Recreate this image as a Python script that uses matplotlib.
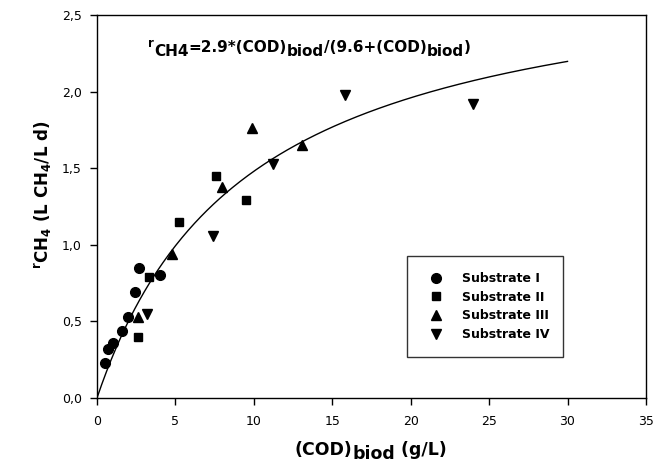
import numpy as np
import matplotlib
matplotlib.use('Agg')
import matplotlib.pyplot as plt
from matplotlib.ticker import FuncFormatter
from matplotlib.transforms import IdentityTransform

plt.rcParams['font.family'] = ['DejaVu Sans']

# Substrate data: (COD)biod in g/L, rCH4 in L CH4/L d
cod_1 = [0.5, 0.7, 1.0, 1.6, 2.0, 2.4, 2.7, 4.0]
r_1 = [0.23, 0.32, 0.36, 0.44, 0.53, 0.69, 0.85, 0.80]

cod_2 = [2.6, 3.3, 5.2, 7.6, 9.5]
r_2 = [0.40, 0.79, 1.15, 1.45, 1.29]

cod_3 = [2.6, 4.8, 8.0, 9.9, 13.1]
r_3 = [0.53, 0.94, 1.38, 1.76, 1.65]

cod_4 = [3.2, 7.4, 11.2, 15.8, 24.0]
r_4 = [0.55, 1.06, 1.53, 1.98, 1.92]

labels = ['Substrate I', 'Substrate II', 'Substrate III', 'Substrate IV']

# Monod-type fit
r_max = 2.9
k_s = 9.6
x_fit = np.linspace(0, 30, 300)
y_fit = r_max * x_fit / (k_s + x_fit)

fig = plt.figure(figsize=(6.67, 4.68), dpi=100)
ax = fig.add_axes([0.1454, 0.1496, 0.823, 0.8184])

ax.plot(x_fit, y_fit, color='black', lw=1.0)
ax.plot(cod_1, r_1, 'o', color='black', ms=7, label=labels[0])
ax.plot(cod_2, r_2, 's', color='black', ms=6, label=labels[1])
ax.plot(cod_3, r_3, '^', color='black', ms=7, label=labels[2])
ax.plot(cod_4, r_4, 'v', color='black', ms=7, label=labels[3])

ax.set_xlim(0, 35)
ax.set_ylim(0, 2.5)
ax.set_xticks(range(0, 36, 5))
ax.set_yticks(np.arange(0, 2.51, 0.5))
ax.yaxis.set_major_formatter(FuncFormatter(lambda v, p: f'{v:.1f}'.replace('.', ',')))
ax.tick_params(direction='out', length=5, width=1, labelsize=9, top=False, right=False)
ax.tick_params(axis='x', pad=7)
ax.tick_params(axis='y', pad=6)
for s in ax.spines.values():
    s.set_linewidth(1.0)

ax.set_ylabel(r'$\mathregular{{}^{r}CH_{4}}$ (L CH$_{\mathregular{4}}$/L d)',
              fontsize=12, fontweight='bold')
ax.yaxis.set_label_coords(-0.078, 0.53)

leg = ax.legend(loc='upper left', bbox_to_anchor=(0.565, 0.371, 0.284, 0.0), mode='expand',
                frameon=True, fancybox=False, edgecolor='black', borderpad=1.3,
                handletextpad=1.1, labelspacing=0.45, borderaxespad=0,
                prop={'weight': 'bold', 'size': 9})
leg.get_frame().set_linewidth(1.0)


# pieces of text with mixed baselines: (string, size, raise in px)
def chain_text(x_px, y_px, parts, center=False):
    renderer = fig.canvas.get_renderer()
    texts = []
    widths = []
    for s, size, dy in parts:
        t = fig.text(0, 0, s, fontsize=size, fontweight='bold', transform=IdentityTransform(),
                     ha='left', va='baseline')
        texts.append((t, dy))
        widths.append(t.get_window_extent(renderer).width)
    x = x_px - sum(widths) / 2 if center else x_px
    for (t, dy), w in zip(texts, widths):
        t.set_position((x, y_px + dy))
        x += w


eq_parts = [('r', 8.5, 9), ('CH4', 11, 0), ('=2.9*(COD)', 11, 4), ('biod', 11, 0),
            ('/(9.6+(COD)', 11, 4), ('biod', 11, 0), (')', 11, 4)]
chain_text(148, 468 - 56, eq_parts)

xlab_parts = [('(COD)', 12.5, 4), ('biod', 12.5, 0), (' (g/L)', 12.5, 4)]
chain_text(371, 468 - 459, xlab_parts, center=True)

fig.savefig('out.png', dpi=100)
